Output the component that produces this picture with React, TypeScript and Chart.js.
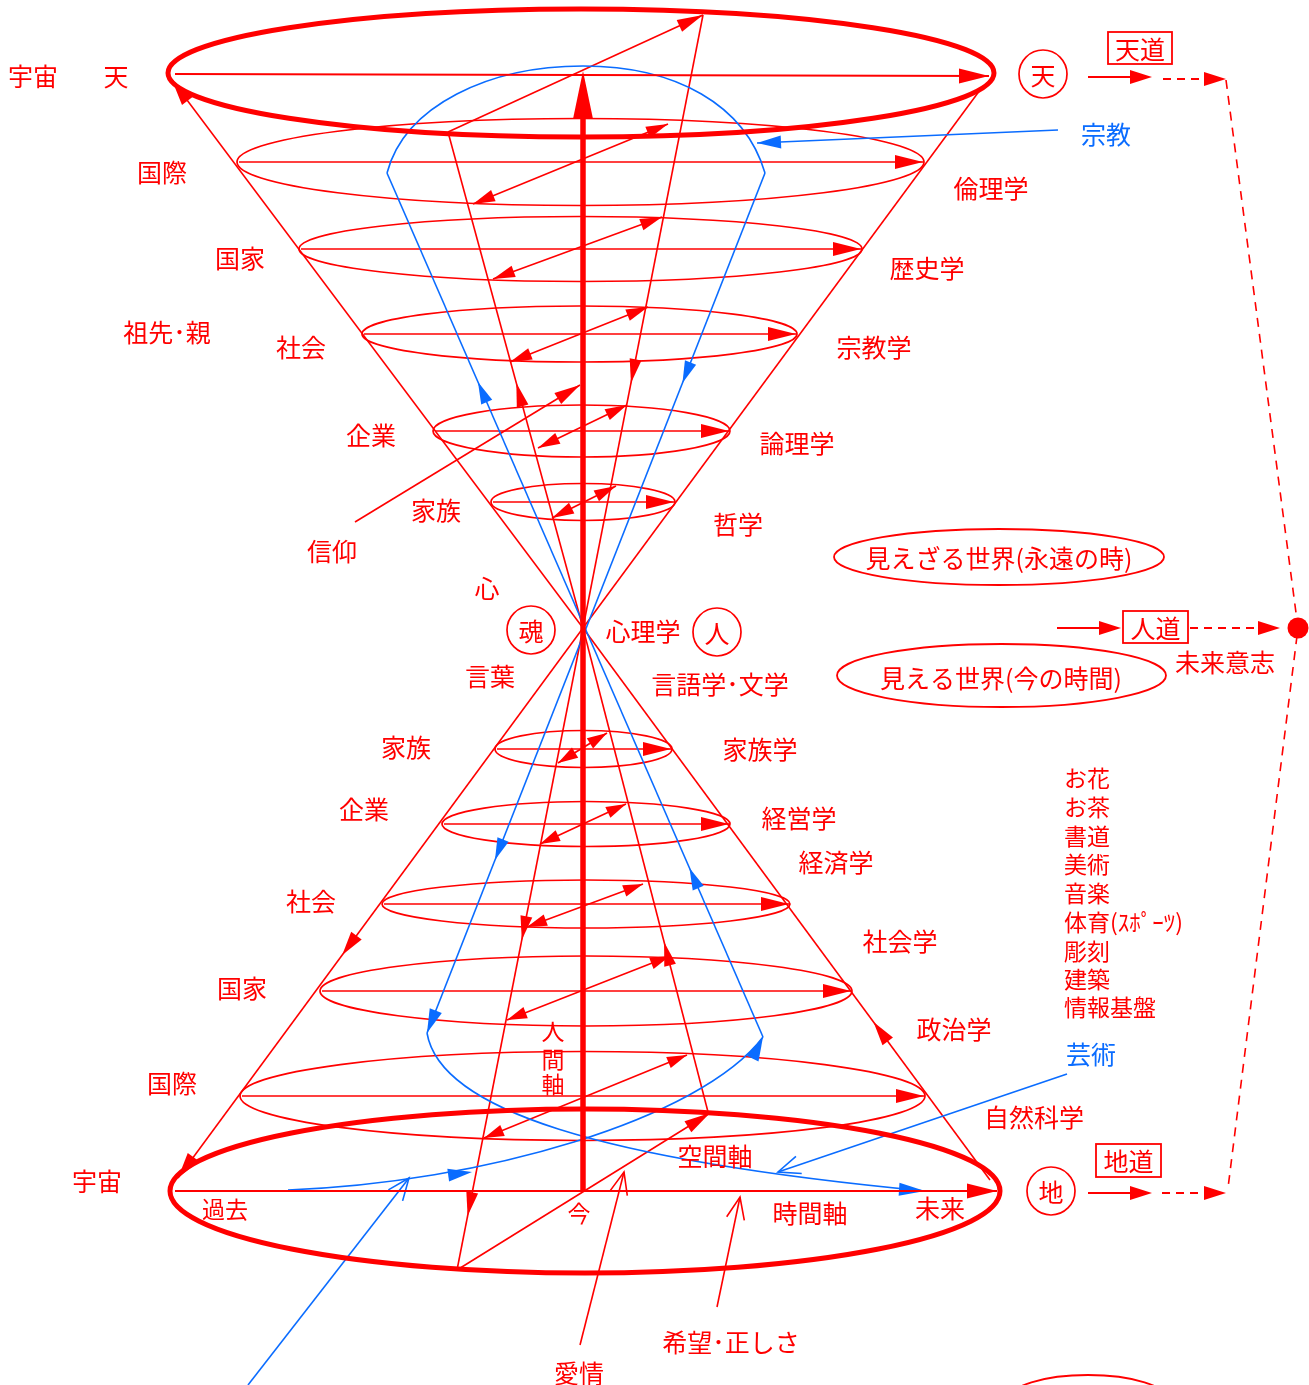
import React, { useEffect, useRef } from 'react';
import { Chart, registerables } from 'chart.js';

Chart.register(...registerables);

type P = [number, number];
type Ring = [number, number, number, number]; // cx, cy, rx, ry (diagram units)
type Seg = { a: P; b: P; mids?: number[]; end?: boolean };
type Label = [string, number, number];

// ---------------- diagram data (diagram coordinate system on the chart's linear axes) -------------
const X_RANGE: P = [0, 1309];
const Y_RANGE: P = [0, 1385];

const APEX: P = [583, 628];
const NOW: P = [583, 1192];

const heavenRing: Ring = [581, 73, 413, 64];
const earthRing: Ring = [585, 1191, 415, 82];

const upperRings: Ring[] = [
  [580.5, 162, 343.5, 43.5],
  [580.5, 249, 281.5, 32.5],
  [579.5, 334, 217.5, 28],
  [581.5, 431, 148.5, 26],
  [583, 502, 92, 18.5],
];
const lowerRings: Ring[] = [
  [583.5, 749, 88.5, 18.5],
  [586, 824, 144, 22.5],
  [586, 904, 204, 24],
  [586, 991, 266, 35],
  [582.5, 1096, 342.5, 44.5],
];

const upperLinks: [P, P][] = [
  [[473, 204], [668, 124]],
  [[493, 279], [662, 217]],
  [[510, 362], [648, 307]],
  [[538, 448], [627, 405]],
  [[552, 518], [616, 486]],
];
const lowerLinks: [P, P][] = [
  [[558, 763], [607, 733]],
  [[540, 844], [626, 804]],
  [[527, 927], [643, 884]],
  [[507, 1020], [670, 956]],
  [[484, 1138], [687, 1055]],
];

const coneEdges: Seg[] = [
  { a: APEX, b: [172, 80], end: true },
  { a: APEX, b: [980, 90] },
  { a: APEX, b: [178, 1178], mids: [955], end: true },
  { a: [990, 1180], b: APEX, mids: [1022] },
];

const redStreams: Seg[] = [
  { a: [703, 15], b: APEX, mids: [383] },
  { a: APEX, b: [448, 132], mids: [383] },
  { a: APEX, b: [457, 1270], mids: [940, 1216] },
  { a: [708, 1112], b: APEX, mids: [942] },
  { a: [448, 132], b: [703, 15], end: true },
  { a: [457, 1270], b: [710, 1113], end: true },
  { a: [355, 522], b: [580, 385], end: true },
];

const blueStreams: Seg[] = [
  { a: [765, 173], b: [427, 1033], mids: [383, 860], end: true },
  { a: [763, 1037], b: [387, 173], mids: [868, 382] },
  { a: [1058, 130], b: [757, 143], end: true },
];

const blueDome: P[] = [[387, 173], [405, 105], [490, 66], [583, 66], [676, 66], [745, 105], [765, 173]];
const bluePastSweep: P[] = [[427, 1033], [440, 1110], [600, 1160], [925, 1191]];
const blueFutureSweep: P[] = [[288, 1190], [480, 1183], [700, 1120], [763, 1037]];
const blueFutureMid: [P, P] = [[442, 1176], [472, 1172]];

const redPointers: [P, P][] = [
  [[717, 1307], [740, 1197]],
  [[580, 1345], [624, 1172]],
];
const bluePointers: [P, P][] = [
  [[248, 1385], [409, 1178]],
  [[1067, 1074], [778, 1172]],
];

const timeAxis: [P, P] = [[175, 1191], [997, 1191]];
const heavenAxis: [P, P] = [[175, 74], [989, 76]];

const solidArrows: [P, P][] = [
  [[1088, 77], [1152, 77]],
  [[1088, 1193], [1152, 1193]],
  [[1057, 628], [1121, 628]],
];
const dashedArrows: [P, P][] = [
  [[1163, 79], [1226, 79]],
  [[1190, 628], [1280, 628]],
  [[1162, 1193], [1226, 1193]],
];
const dashedPath: P[] = [[1226, 80], [1298, 628], [1228, 1188]];
const wayDot: P[] = [[1298, 628]];

const worldRings: Ring[] = [
  [999, 557, 165, 28],
  [1001.5, 675.5, 164.5, 31.5],
  [1088, 1400, 80, 25],
];

const circled: Label[] = [
  ['天', 1043, 74],
  ['地', 1051, 1191],
  ['魂', 531, 630],
  ['人', 717, 632],
];
const boxed: [string, number, number, number, number][] = [
  ['天道', 1108, 32, 1172, 64],
  ['人道', 1123, 611, 1188, 643],
  ['地道', 1096, 1144, 1161, 1177],
];

const redLabels: Label[] = [
  ['宇宙', 33, 76], ['天', 116, 76], ['国際', 162, 172], ['国家', 240, 258],
  ['祖先･親', 167, 332], ['社会', 301, 347], ['企業', 371, 435], ['家族', 436, 510],
  ['信仰', 332, 551], ['心', 487, 588], ['言葉', 490, 676], ['心理学', 643, 631],
  ['言語学･文学', 720, 684], ['倫理学', 991, 188], ['歴史学', 927, 268], ['宗教学', 874, 347],
  ['論理学', 797, 443], ['哲学', 738, 524], ['家族', 406, 747], ['企業', 364, 809],
  ['社会', 311, 901], ['国家', 242, 988], ['国際', 172, 1083], ['宇宙', 97, 1181],
  ['空間軸', 715, 1156], ['時間軸', 810, 1213], ['未来', 940, 1208], ['家族学', 760, 749],
  ['経営学', 799, 818], ['経済学', 836, 862], ['社会学', 900, 941], ['政治学', 954, 1029],
  ['自然科学', 1034, 1117], ['希望･正しさ', 731, 1342], ['愛情', 579, 1373], ['未来意志', 1225, 662],
  ['見えざる世界(永遠の時)', 999, 558], ['見える世界(今の時間)', 1001, 678],
];
const smallRedLabels: Label[] = [['過去', 225, 1209], ['今', 579, 1213]];
const blueLabels: Label[] = [['宗教', 1106, 134], ['芸術', 1091, 1054]];
const artsList: string[] = ['お花', 'お茶', '書道', '美術', '音楽', '体育(ｽﾎﾟｰﾂ)', '彫刻', '建築', '情報基盤'];
const artsListY: number[] = [778, 807, 836, 864, 893, 922, 951, 979, 1007];
const artsListX = 1064;
const humanAxisChars: string[] = ['人', '間', '軸'];
const humanAxisY: number[] = [1031, 1059, 1084];
const humanAxisX = 553;

// ---------------- styles ----------------
const RED = '#ff0000';
const BLUE = '#0a6cff';
const FONT = '"Noto Sans CJK JP", "Noto Sans CJK SC", sans-serif';

const diagramPlugin = {
  id: 'diagram',
  beforeDatasetsDraw(chart: any) {
    const ctx: CanvasRenderingContext2D = chart.ctx;
    const xs = chart.scales.x;
    const ys = chart.scales.y;
    const X = (v: number) => xs.getPixelForValue(v);
    const Y = (v: number) => ys.getPixelForValue(v);

    ctx.save();
    ctx.lineCap = 'butt';
    ctx.lineJoin = 'miter';

    const line = (a: P, b: P, color: string, lw = 1.6, dash: number[] = []) => {
      ctx.beginPath();
      ctx.setLineDash(dash);
      ctx.strokeStyle = color;
      ctx.lineWidth = lw;
      ctx.moveTo(X(a[0]), Y(a[1]));
      ctx.lineTo(X(b[0]), Y(b[1]));
      ctx.stroke();
      ctx.setLineDash([]);
    };
    const head = (tip: P, from: P, color: string, len = 22, wid = 12, open = false) => {
      const tx = X(tip[0]), ty = Y(tip[1]);
      const fx = X(from[0]), fy = Y(from[1]);
      const ang = Math.atan2(ty - fy, tx - fx);
      const bx = tx - len * Math.cos(ang), by = ty - len * Math.sin(ang);
      const nx = -Math.sin(ang) * wid / 2, ny = Math.cos(ang) * wid / 2;
      ctx.beginPath();
      ctx.moveTo(bx + nx, by + ny);
      ctx.lineTo(tx, ty);
      ctx.lineTo(bx - nx, by - ny);
      if (open) {
        ctx.strokeStyle = color;
        ctx.lineWidth = 1.6;
        ctx.stroke();
      } else {
        ctx.closePath();
        ctx.fillStyle = color;
        ctx.fill();
      }
    };
    const ellipse = (r: Ring, color: string, lw: number) => {
      const [cx, cy, rx, ry] = r;
      ctx.beginPath();
      ctx.strokeStyle = color;
      ctx.lineWidth = lw;
      ctx.ellipse(X(cx), Y(cy), Math.abs(X(cx + rx) - X(cx)), Math.abs(Y(cy + ry) - Y(cy)), 0, 0, Math.PI * 2);
      ctx.stroke();
    };
    const bezier = (pts: P[], color: string, lw = 1.6) => {
      ctx.beginPath();
      ctx.strokeStyle = color;
      ctx.lineWidth = lw;
      ctx.moveTo(X(pts[0][0]), Y(pts[0][1]));
      for (let i = 1; i + 2 < pts.length; i += 3) {
        ctx.bezierCurveTo(X(pts[i][0]), Y(pts[i][1]), X(pts[i + 1][0]), Y(pts[i + 1][1]), X(pts[i + 2][0]), Y(pts[i + 2][1]));
      }
      ctx.stroke();
    };
    const seg = (s: Seg, color: string, len = 24, wid = 12) => {
      line(s.a, s.b, color);
      const [ax, ay] = s.a;
      const [bx, by] = s.b;
      (s.mids || []).forEach((yy) => {
        const t = (yy - ay) / (by - ay);
        const tip: P = [ax + t * (bx - ax), yy];
        const back: P = [ax + (t - 0.05) * (bx - ax), ay + (t - 0.05) * (by - ay)];
        head(tip, back, color, len, wid);
      });
      if (s.end) head(s.b, s.a, color, len + 2, wid + 1);
    };
    const text = (t: string, x: number, y: number, color: string, size: number, align: CanvasTextAlign = 'center') => {
      ctx.fillStyle = color;
      ctx.font = `${size}px ${FONT}`;
      ctx.textAlign = align;
      ctx.textBaseline = 'middle';
      ctx.fillText(t, X(x), Y(y));
    };

    // white background
    ctx.fillStyle = '#ffffff';
    ctx.fillRect(0, 0, chart.width, chart.height);

    // rings of the two cones
    [...upperRings, ...lowerRings].forEach((r) => {
      ellipse(r, RED, 1.7);
      const [cx, cy, rx] = r;
      line([cx - rx + 2, cy], [cx + rx - 1, cy], RED, 1.6);
      head([cx + rx - 1, cy], [cx - rx, cy], RED, 28, 14);
    });

    // cone edges and streams
    coneEdges.forEach((s) => seg(s, RED, 24, 13));
    redStreams.forEach((s) => seg(s, RED, 24, 12));

    [...upperLinks, ...lowerLinks].forEach(([a, b], i) => {
      line(a, b, RED, 1.6);
      const sz = i < upperLinks.length ? 22 : 20;
      head(a, b, RED, sz, 12);
      head(b, a, RED, sz, 12);
    });

    // blue flows
    blueStreams.forEach((s) => seg(s, BLUE, 22, 12));
    bezier(blueDome, BLUE);
    bezier(bluePastSweep, BLUE);
    head(bluePastSweep[3], [880, 1188], BLUE, 26, 13);
    bezier(blueFutureSweep, BLUE);
    head(blueFutureSweep[3], [752, 1060], BLUE, 24, 13);
    head(blueFutureMid[1], blueFutureMid[0], BLUE, 24, 13);

    // open pointers
    redPointers.forEach(([a, b]) => {
      line(a, b, RED, 1.6);
      head(b, a, RED, 22, 18, true);
    });
    bluePointers.forEach(([a, b]) => {
      line(a, b, BLUE, 1.6);
      head(b, a, BLUE, 22, 18, true);
    });

    // time axis and heaven axis
    line(timeAxis[0], timeAxis[1], RED, 1.8);
    head(timeAxis[1], timeAxis[0], RED, 30, 15);
    line(heavenAxis[0], heavenAxis[1], RED, 1.8);
    head(heavenAxis[1], heavenAxis[0], RED, 30, 15);

    // big rings
    ellipse(heavenRing, RED, 5);
    ellipse(earthRing, RED, 5);

    // human axis (thick)
    const top: P = [APEX[0], heavenRing[1] - 2];
    line(NOW, [APEX[0], top[1] + 44], RED, 5.5);
    head(top, NOW, RED, 48, 20);

    // right-hand side
    worldRings.forEach((r) => ellipse(r, RED, 1.8));
    solidArrows.forEach(([a, b]) => {
      line(a, [b[0] - 8, b[1]], RED, 1.8);
      head(b, a, RED, 22, 14);
    });
    dashedArrows.forEach(([a, b]) => {
      line(a, [b[0] - 10, b[1]], RED, 1.8, [8, 6]);
      head(b, a, RED, 22, 14);
    });
    ctx.beginPath();
    ctx.setLineDash([9, 7]);
    ctx.strokeStyle = RED;
    ctx.lineWidth = 1.6;
    dashedPath.forEach((p, i) => (i === 0 ? ctx.moveTo(X(p[0]), Y(p[1])) : ctx.lineTo(X(p[0]), Y(p[1]))));
    ctx.stroke();
    ctx.setLineDash([]);

    circled.forEach(([t, x, y]) => {
      ellipse([x, y, 24, 24], RED, 1.7);
      text(t, x, y + 1, RED, 25);
    });
    boxed.forEach(([t, x1, y1, x2, y2]) => {
      ctx.strokeStyle = RED;
      ctx.lineWidth = 1.8;
      ctx.strokeRect(X(x1), Y(y1), X(x2) - X(x1), Y(y2) - Y(y1));
      text(t, (x1 + x2) / 2, (y1 + y2) / 2 + 1, RED, 25);
    });

    // labels
    redLabels.forEach(([t, x, y]) => text(t, x, y, RED, 25));
    smallRedLabels.forEach(([t, x, y]) => text(t, x, y, RED, 23));
    blueLabels.forEach(([t, x, y]) => text(t, x, y, BLUE, 25));
    artsList.forEach((t, i) => text(t, artsListX, artsListY[i], RED, 23, 'left'));
    humanAxisChars.forEach((t, i) => text(t, humanAxisX, humanAxisY[i], RED, 23));

    ctx.restore();
  },
};

export default function App() {
  const canvasRef = useRef<HTMLCanvasElement | null>(null);

  useEffect(() => {
    document.body.style.margin = '0';
    const canvas = canvasRef.current;
    if (!canvas) return;
    const chart = new Chart(canvas, {
      type: 'scatter',
      data: {
        datasets: [
          {
            data: wayDot.map(([x, y]) => ({ x, y })),
            pointRadius: 10.5,
            pointHoverRadius: 10.5,
            backgroundColor: RED,
            borderColor: RED,
            borderWidth: 0,
            clip: false as any,
          },
        ],
      },
      options: {
        responsive: false,
        animation: false,
        events: [],
        layout: { padding: 0, autoPadding: false },
        plugins: { legend: { display: false }, tooltip: { enabled: false } },
        scales: {
          x: { type: 'linear', min: X_RANGE[0], max: X_RANGE[1], display: false },
          y: { type: 'linear', min: Y_RANGE[0], max: Y_RANGE[1], reverse: true, display: false },
        },
      },
      plugins: [diagramPlugin],
    });
    return () => chart.destroy();
  }, []);

  return (
    <div style={{ width: 1309, height: 1385, background: '#fff' }}>
      <canvas ref={canvasRef} width={1309} height={1385} style={{ display: 'block' }} />
    </div>
  );
}
